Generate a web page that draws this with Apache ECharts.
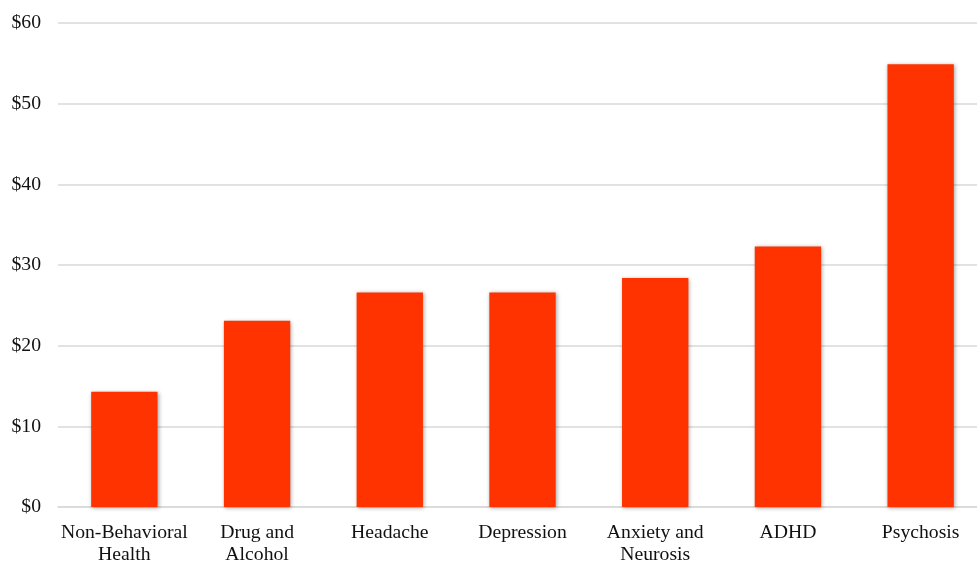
<!DOCTYPE html>
<html>
<head>
<meta charset="utf-8">
<script src="https://cdn.jsdelivr.net/npm/echarts@6/dist/echarts.min.js"></script>
<style>
  html, body { margin: 0; padding: 0; background: #fff; overflow: hidden; }
  #chart { width: 977px; height: 561px; }
</style>
</head>
<body>
<div id="chart"></div>
<script>
// Average cost per visit by diagnosis group
const categories = ['Non-Behavioral\nHealth', 'Drug and\nAlcohol', 'Headache', 'Depression', 'Anxiety and\nNeurosis', 'ADHD', 'Psychosis'];
const costs = [14.3, 23.1, 26.6, 26.6, 28.4, 32.3, 54.9];
const yTicks = { min: 0, max: 60, interval: 10 };

const chart = echarts.init(document.getElementById('chart'), null, { renderer: 'canvas' });
const font = 'Liberation Serif, Times New Roman, serif';

chart.setOption({
  animation: false,
  backgroundColor: '#ffffff',
  // the plot runs slightly past the right edge of the page
  grid: { left: 58, right: -10, top: 23, height: 484, containLabel: false, outerBoundsMode: 'none' },
  xAxis: {
    type: 'category',
    data: categories,
    axisLine: { show: true, lineStyle: { color: '#d9d9d9', width: 1.5 } },
    axisTick: { show: false },
    axisLabel: {
      color: '#111', fontFamily: font, fontSize: 19.7, lineHeight: 22,
      margin: 15, interval: 0
    }
  },
  yAxis: {
    type: 'value',
    min: yTicks.min, max: yTicks.max, interval: yTicks.interval,
    axisLine: { show: false },
    axisTick: { show: false },
    splitLine: { lineStyle: { color: '#d9d9d9', width: 1.5 } },
    axisLabel: {
      color: '#111', fontFamily: font, fontSize: 19.7, margin: 17,
      formatter: v => '$' + v
    }
  },
  series: [{
    type: 'bar',
    data: costs,
    barWidth: '50%',
    itemStyle: {
      color: '#ff3300',
      shadowColor: 'rgba(0,0,0,0.35)',
      shadowBlur: 4,
      shadowOffsetX: 1,
      shadowOffsetY: 1
    }
  }]
});
</script>
</body>
</html>
